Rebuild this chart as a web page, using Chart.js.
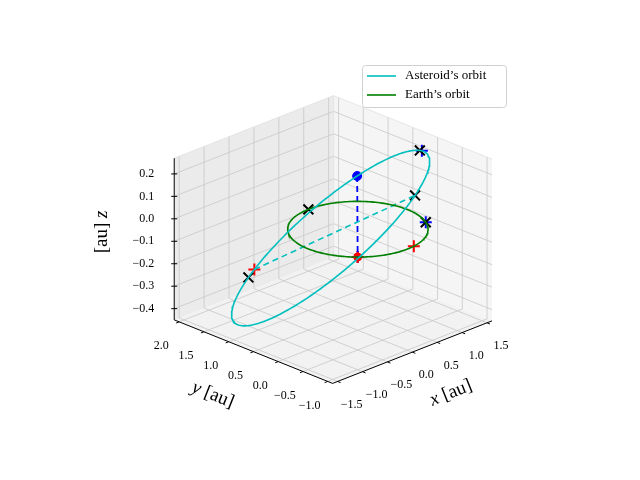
<!DOCTYPE html>
<html>
<head>
<meta charset="utf-8">
<script src="https://cdn.jsdelivr.net/npm/chart.js@4/dist/chart.umd.min.js"></script>
<style>body{margin:0;background:#fff}</style>
</head>
<body>
<canvas id="orbitChart" width="640" height="480"></canvas>
<script>
// axis limits and ticks
const xLim = [-1.6, 1.6];
const yLim = [-1.1, 2.1];
const zLim = [-0.45, 0.27];
const xTicks = [-1.5, -1.0, -0.5, 0.0, 0.5, 1.0, 1.5];
const yTicks = [-1.0, -0.5, 0.0, 0.5, 1.0, 1.5, 2.0];
const zTicks = [-0.4, -0.3, -0.2, -0.1, 0.0, 0.1, 0.2];

// orbits (au)
const earthRadius = 1.0;
const asteroidCenter = [-0.045, 0.505, -0.08];
const asteroidU = [1.365, -0.605, 0.30];
const asteroidV = [0.30, 0.60, 0.06];

// marker positions: asteroid orbit by anomaly (rad), earth orbit by angle (deg)
const asteroidCrossT = [2.4, -0.7, 0.3];
const earthCrossDeg = [90, -30];
const asteroidPlusT = [2.3];
const earthPlusDeg = [-82, -135];
const bluePlusT = [0.25];
const bluePlusDeg = [-30, -135];
const asteroidDotT = 1.15;
const earthDotDeg = -135;
const nodesT = [2.3, -0.7];

// view
const O = [333, 389], VX = [164, -65], VY = [-163, -66], VZ = [0, -168];
function proj(p) {
  const fx = (p[0] - xLim[0]) / (xLim[1] - xLim[0]);
  const fy = (p[1] - yLim[0]) / (yLim[1] - yLim[0]);
  const fz = (p[2] - zLim[0]) / (zLim[1] - zLim[0]);
  return {x: O[0] + VX[0]*fx + VY[0]*fy + VZ[0]*fz,
          y: O[1] + VX[1]*fx + VY[1]*fy + VZ[1]*fz};
}
function ast(t) {
  return asteroidCenter.map((c, i) => c + asteroidU[i]*Math.cos(t) + asteroidV[i]*Math.sin(t));
}
function earth(deg) {
  const a = deg * Math.PI / 180;
  return [earthRadius*Math.cos(a), earthRadius*Math.sin(a), 0];
}
const steps = [];
for (let i = 0; i <= 200; i++) steps.push(i / 200 * 2 * Math.PI);

const ctx = document.getElementById('orbitChart').getContext('2d');
const serif = '"Liberation Serif", "DejaVu Serif", serif';

const boxPlugin = {
  id: 'box',
  beforeDatasetsDraw(chart) {
    const c = chart.ctx, sx = chart.scales.x, sy = chart.scales.y;
    const P = p => { const q = proj(p); return [sx.getPixelForValue(q.x), sy.getPixelForValue(q.y)]; };
    const poly = (pts, fill) => {
      c.beginPath(); pts.forEach((p, i) => { const q = P(p); i ? c.lineTo(q[0], q[1]) : c.moveTo(q[0], q[1]); });
      c.closePath(); c.fillStyle = fill; c.fill();
    };
    const line = (a, b, col, w) => {
      const p = P(a), q = P(b);
      c.beginPath(); c.moveTo(p[0], p[1]); c.lineTo(q[0], q[1]);
      c.strokeStyle = col; c.lineWidth = w; c.stroke();
    };
    const [x0, x1] = xLim, [y0, y1] = yLim, [z0, z1] = zLim;
    c.save();
    poly([[x0,y0,z0],[x1,y0,z0],[x1,y1,z0],[x0,y1,z0]], '#f2f2f2');
    poly([[x0,y1,z0],[x1,y1,z0],[x1,y1,z1],[x0,y1,z1]], '#ebebeb');
    poly([[x1,y0,z0],[x1,y1,z0],[x1,y1,z1],[x1,y0,z1]], '#f5f5f5');
    const g = '#c8c8c8';
    xTicks.forEach(v => { line([v,y0,z0],[v,y1,z0],g,0.8); line([v,y1,z0],[v,y1,z1],g,0.8); });
    yTicks.forEach(v => { line([x0,v,z0],[x1,v,z0],g,0.8); line([x1,v,z0],[x1,v,z1],g,0.8); });
    zTicks.forEach(v => { line([x0,y1,v],[x1,y1,v],g,0.8); line([x1,y0,v],[x1,y1,v],g,0.8); });
    // pane edges
    line([x0,y1,z1],[x1,y1,z1],'#e0e0e0',0.8); line([x1,y1,z1],[x1,y0,z1],'#e0e0e0',0.8);
    line([x1,y1,z0],[x1,y1,z1],'#e0e0e0',0.8);
    // axis lines
    line([x0,y0,z0],[x1,y0,z0],'#000',1);
    line([x0,y0,z0],[x0,y1,z0],'#000',1);
    line([x0,y1,z0],[x0,y1,z1],'#000',1);
    c.fillStyle = '#000'; c.font = '12px ' + serif;
    const lab = v => (v < 0 ? '\u2212' : '') + Math.abs(v).toFixed(1);
    xTicks.forEach(v => {
      const p = P([v,y0,z0]); line([v,y0,z0],[v,y0-0.06,z0],'#000',1);
      c.textAlign = 'center'; c.textBaseline = 'middle'; c.fillText(lab(v), p[0] + 14, p[1] + 23);
    });
    yTicks.forEach(v => {
      const p = P([x0,v,z0]); line([x0,v,z0],[x0-0.06,v,z0],'#000',1);
      c.textAlign = 'center'; c.textBaseline = 'middle'; c.fillText(lab(v), p[0] - 18, p[1] + 24);
    });
    zTicks.forEach(v => {
      const p = P([x0,y1,v]);
      c.beginPath(); c.moveTo(p[0]-3, p[1]); c.lineTo(p[0]+3, p[1]); c.strokeStyle='#000'; c.stroke();
      c.textAlign = 'right'; c.textBaseline = 'middle'; c.fillText(lab(v), p[0] - 20, p[1]);
    });
    // axis titles: italic symbol plus upright unit
    const title = (parts, x, y, rot) => {
      c.save(); c.translate(x, y); c.rotate(rot); c.textBaseline = 'middle'; c.textAlign = 'left';
      const fonts = parts.map(s => (s.length === 1 ? 'italic ' : '') + '19px ' + serif);
      const widths = parts.map((s, i) => { c.font = fonts[i]; return c.measureText(s).width; });
      let xx = -widths.reduce((a, b) => a + b, 0) / 2;
      parts.forEach((s, i) => { c.font = fonts[i]; c.fillText(s, xx, 0); xx += widths[i]; });
      c.restore();
    };
    title(['x', ' [au]'], 451, 393, -0.38);
    title(['y', ' [au]'], 213, 395, 0.38);
    title(['[au] ', 'z'], 102, 232, -Math.PI / 2);
    c.restore();
  },
  afterDraw(chart) {
    const c = chart.ctx;
    c.save();
    c.fillStyle = 'rgba(255,255,255,0.85)'; c.strokeStyle = '#d0d0d0'; c.lineWidth = 1;
    c.beginPath(); c.roundRect(362.5, 65.5, 144, 42, 3); c.fill(); c.stroke();
    c.font = '13px ' + serif; c.textAlign = 'left'; c.textBaseline = 'middle'; c.fillStyle = '#000';
    [['Asteroid\u2019s orbit', '#00bfbf', 76], ['Earth\u2019s orbit', 'green', 95]].forEach(([t, col, y]) => {
      c.beginPath(); c.moveTo(367, y); c.lineTo(396, y); c.strokeStyle = col; c.lineWidth = 1.6; c.stroke();
      c.fillText(t, 405, y);
    });
    c.restore();
  }
};

const pt = p => proj(p);
const marker = (data, style, color, r, w) => ({
  data, showLine: false, pointStyle: style, pointRadius: r, pointBorderColor: color,
  pointBackgroundColor: color, pointBorderWidth: w
});

new Chart(ctx, {
  type: 'scatter',
  data: {
    datasets: [
      {label: 'Asteroid\u2019s orbit', data: steps.map(t => pt(ast(t))), showLine: true, borderColor: '#00bfbf', borderWidth: 1.6, pointRadius: 0},
      {label: 'Earth\u2019s orbit', data: steps.map(t => pt(earth(t * 180 / Math.PI))), showLine: true, borderColor: 'green', borderWidth: 1.6, pointRadius: 0},
      {data: nodesT.map(t => pt(ast(t))), showLine: true, borderColor: '#00bfbf', borderWidth: 1.6, borderDash: [6, 4], pointRadius: 0},
      {data: [pt(ast(asteroidDotT)), pt(earth(earthDotDeg))], showLine: true, borderColor: 'blue', borderWidth: 1.8, borderDash: [6, 4], pointRadius: 0},
      marker([pt(earth(earthDotDeg))], 'circle', 'red', 4, 1),
      marker([pt(ast(asteroidDotT))], 'circle', 'blue', 4.5, 1),
      marker(asteroidCrossT.map(t => pt(ast(t))).concat(earthCrossDeg.map(d => pt(earth(d)))), 'crossRot', '#000', 7, 2),
      marker(asteroidPlusT.map(t => pt(ast(t))).concat(earthPlusDeg.map(d => pt(earth(d)))), 'cross', 'red', 6, 2),
      marker(bluePlusT.map(t => pt(ast(t))).concat(bluePlusDeg.map(d => pt(earth(d)))), 'cross', 'blue', 6, 2)
    ]
  },
  options: {
    responsive: false, animation: false,
    layout: {padding: 0},
    plugins: {legend: {display: false}, tooltip: {enabled: false}},
    scales: {
      x: {type: 'linear', min: 0, max: 640, display: false},
      y: {type: 'linear', min: 0, max: 480, reverse: true, display: false}
    }
  },
  plugins: [boxPlugin]
});
</script>
</body>
</html>
